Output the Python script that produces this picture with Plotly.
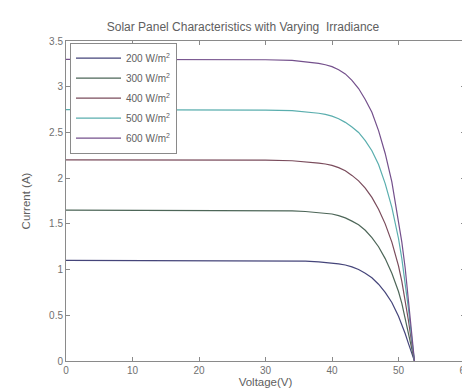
import plotly.graph_objects as go

# Data
voltage = [0, 10, 20, 30, 34, 36, 38, 39, 40, 41, 42, 43, 44, 45, 46, 47, 48, 49, 50, 50.5, 51, 51.5, 52, 52.4]
current_200 = [1.1, 1.1, 1.1, 1.098, 1.095, 1.092, 1.085, 1.08, 1.073, 1.063, 1.05, 1.03, 1.0, 0.96, 0.91, 0.84, 0.75, 0.64, 0.49, 0.40, 0.30, 0.19, 0.08, 0]
current_300 = [1.65, 1.65, 1.65, 1.647, 1.642, 1.635, 1.625, 1.618, 1.608, 1.59, 1.565, 1.53, 1.49, 1.43, 1.35, 1.25, 1.12, 0.96, 0.76, 0.63, 0.47, 0.31, 0.13, 0]
current_400 = [2.2, 2.2, 2.2, 2.196, 2.19, 2.18, 2.165, 2.155, 2.14, 2.115, 2.08, 2.03, 1.97, 1.89, 1.79, 1.66, 1.50, 1.30, 1.04, 0.87, 0.67, 0.44, 0.19, 0]
current_500 = [2.75, 2.75, 2.75, 2.745, 2.738, 2.728, 2.71, 2.697, 2.678, 2.65, 2.61, 2.56, 2.50, 2.41, 2.30, 2.15, 1.94, 1.68, 1.34, 1.12, 0.86, 0.57, 0.24, 0]
current_600 = [3.3, 3.3, 3.3, 3.295, 3.288, 3.275, 3.255, 3.24, 3.22, 3.185, 3.14, 3.07, 2.98, 2.86, 2.72, 2.52, 2.27, 1.96, 1.55, 1.30, 1.02, 0.68, 0.29, 0]

series_names = ["200 W/m<sup>2</sup>", "300 W/m<sup>2</sup>", "400 W/m<sup>2</sup>",
                "500 W/m<sup>2</sup>", "600 W/m<sup>2</sup>"]
series_values = [current_200, current_300, current_400, current_500, current_600]
series_colors = ["#45457a", "#4d6658", "#7a4c5c", "#5aaeae", "#74508c"]

x_ticks = [0, 10, 20, 30, 40, 50, 60]
y_ticks = [0, 0.5, 1, 1.5, 2, 2.5, 3, 3.5]
y_tick_labels = ["0", "0.5", "1", "1.5", "2", "2.5", "3", "3.5"]

fig = go.Figure()
for i, (name, vals, col) in enumerate(zip(series_names, series_values, series_colors)):
    fig.add_trace(go.Scatter(x=voltage, y=vals, mode="lines", name=name,
                             legendgroup="g%d" % i,
                             line=dict(color=col, width=1.2)))

font_family = "Liberation Sans, Arial, sans-serif"
axis_common = dict(showline=True, linecolor="#8a8a8a", linewidth=1, mirror="ticks",
                   ticks="inside", ticklen=4, tickcolor="#8a8a8a", showgrid=False,
                   zeroline=False, tickfont=dict(size=10, color="#707070", family=font_family))

fig.update_layout(
    width=470, height=390,
    margin=dict(l=58, r=7, t=33, b=37),
    paper_bgcolor="white", plot_bgcolor="white",
    title=dict(text="Solar Panel Characteristics with Varying  Irradiance",
               x=0.5, xanchor="center", y=0.952, yanchor="middle",
               font=dict(size=12, color="#606060", family=font_family)),
    xaxis=dict(range=[0, 60], tickvals=x_ticks, **axis_common,
               title=dict(text="Voltage(V)", standoff=2,
                          font=dict(size=11.5, color="#606060", family=font_family))),
    yaxis=dict(range=[0, 3.5], tickvals=y_ticks, ticktext=y_tick_labels, **axis_common,
               title=dict(text="Current (A)", standoff=16,
                          font=dict(size=11.5, color="#606060", family=font_family))),
    legend=dict(x=0.01, y=0.995, xanchor="left", yanchor="top",
                bgcolor="white", bordercolor="#8a8a8a", borderwidth=1,
                font=dict(size=10, color="#606060", family=font_family),
                tracegroupgap=1, itemwidth=45),
    showlegend=True,
)

fig.write_html("out.html")
